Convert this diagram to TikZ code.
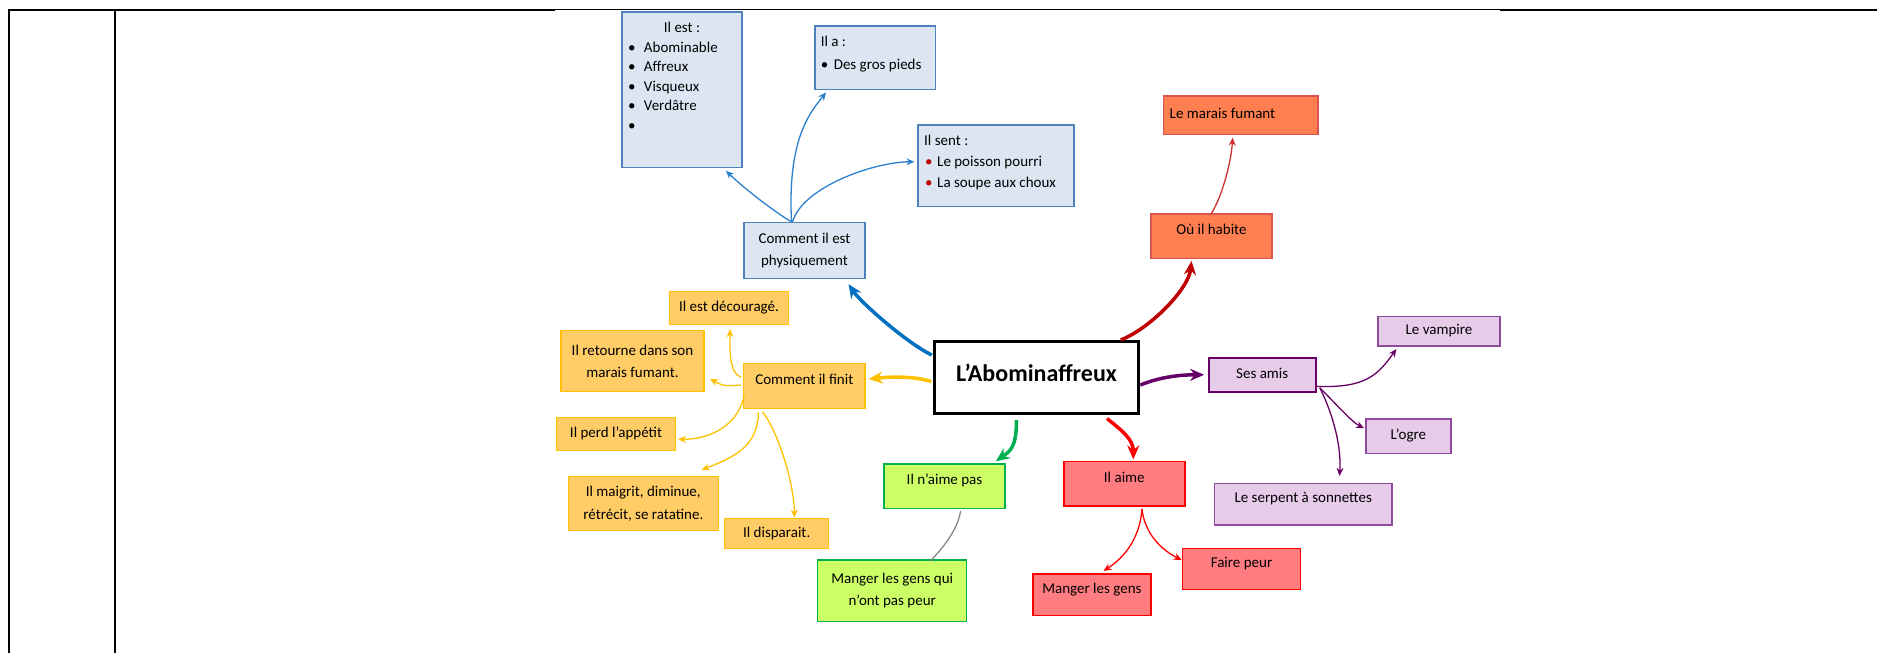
\documentclass[tikz,border=0pt]{standalone}
\usepackage{fontspec}
\setmainfont{Carlito}
\usetikzlibrary{arrows.meta}
\definecolor{bluefill}{HTML}{DCE6F2}
\definecolor{blueline}{HTML}{4F81BD}
\definecolor{bluearrow}{HTML}{0070C0}
\definecolor{thinblue}{HTML}{2A80CC}
\definecolor{coralfill}{HTML}{FF7F50}
\definecolor{coralline}{HTML}{D9534F}
\definecolor{darkred}{HTML}{C00000}
\definecolor{thinred}{HTML}{D03030}
\definecolor{goldfill}{HTML}{FFCC66}
\definecolor{gold}{HTML}{FFC000}
\definecolor{limefill}{HTML}{CCFF66}
\definecolor{greenline}{HTML}{00B050}
\definecolor{pinkfill}{HTML}{FF7C80}
\definecolor{lilacfill}{HTML}{E6CCE8}
\definecolor{lilacline}{HTML}{8E4A9C}
\definecolor{plum}{HTML}{660066}
\tikzset{every picture/.style={x=1pt,y=-1pt,font=\fontsize{15}{22.5}\selectfont},
  mapbox/.style={draw, line width=1.5pt, inner sep=0pt, align=center},
  bluebox/.style={mapbox, fill=bluefill, draw=blueline},
  coralbox/.style={mapbox, fill=coralfill, draw=coralline},
  goldbox/.style={mapbox, fill=goldfill, draw=gold},
  limebox/.style={mapbox, fill=limefill, draw=greenline},
  pinkbox/.style={mapbox, fill=pinkfill, draw=red},
  lilacbox/.style={mapbox, fill=lilacfill, draw=lilacline},
  txt/.style={text height=11pt, text depth=4pt},
  txtup/.style={text height=11pt, text depth=14pt},
  big arrow/.style={line width=3.5pt, -{Stealth[length=14pt,width=12pt]}},
  small arrow/.style={line width=1.3pt, -{Stealth[length=8pt,width=7pt]}}}

\begin{document}
\begin{tikzpicture}
      \useasboundingbox (0,0) rectangle (1877,653);

      % table frame
      \draw[line width=2.3pt] (9,10) -- (555,10);
      \draw[line width=1.1pt] (555,9.5) -- (1500,9.5);
      \draw[line width=2.3pt] (1500,10) -- (1877,10);
      \draw[line width=2pt] (9,8.85) -- (9,653);
      \draw[line width=2pt] (115,8.85) -- (115,653);

      % centre
      \node[mapbox, fill=white, draw=black, line width=3.5pt, minimum width=204, minimum height=71.6, txt,
        font=\fontsize{24}{28}\selectfont\bfseries] (abom) at (1036.5,377.5){L’Abominaffreux};

      % physique
      \node[bluebox, minimum width=121, minimum height=55.7] (phys) at (804.5,250.5){Comment il est\\physiquement};
      \node[bluebox] (est) at (682,89.8){\parbox[c][155.7pt][t]{120pt}{\fontsize{15}{19.6}\selectfont
        \vspace*{6.8pt}\centering\strut Il est :\par\raggedright
        \hspace*{6pt}\makebox[16pt][l]{\textbullet}Abominable\par
        \hspace*{6pt}\makebox[16pt][l]{\textbullet}Affreux\par
        \hspace*{6pt}\makebox[16pt][l]{\textbullet}Visqueux\par
        \hspace*{6pt}\makebox[16pt][l]{\textbullet}Verdâtre\par
        \hspace*{6pt}\textbullet\par}};
      \node[bluebox] (ila) at (875.1,57.7){\parbox[c][63.3pt][t]{120.6pt}{\fontsize{15}{22.4}\selectfont
        \vspace*{5pt}\raggedright\hspace*{6pt}\strut Il a :\par
        \hspace*{6pt}\makebox[13pt][l]{\textbullet}Des gros pieds\par}};
      \node[bluebox] (sent) at (996.2,165.8){\parbox[c][81.7pt][t]{156pt}{\fontsize{15}{21}\selectfont
        \vspace*{5.8pt}\raggedright\hspace*{6pt}\strut Il sent :\par
        \hspace*{7pt}\makebox[12pt][l]{\color{darkred}\textbullet}Le poisson pourri\par
        \hspace*{7pt}\makebox[12pt][l]{\color{darkred}\textbullet}La soupe aux choux\par}};

      % habitat
      \node[coralbox, minimum width=121, minimum height=44.7, txtup] (habite) at (1211.5,236.3){Où il habite};
      \node[coralbox, minimum width=154.6, minimum height=38.3, txt] (marais) at (1240.7,115.2){\makebox[142pt][l]{Le marais fumant}};

      % fin
      \node[goldbox, minimum width=121.3, minimum height=44.6, txtup] (finit) at (804.3,386){Comment il finit};
      \node[goldbox, minimum width=119.4, minimum height=32.6, txt] (decour) at (729,308){Il est découragé.};
      \node[goldbox, minimum width=143, minimum height=61] (retourne) at (632.5,361.2){Il retourne dans son\\marais fumant.};
      \node[goldbox, minimum width=119.4, minimum height=33.4, txt] (appetit) at (616,434){Il perd l’appétit};
      \node[goldbox, minimum width=150, minimum height=54] (maigrit) at (643.3,503.7){Il maigrit, diminue,\\rétrécit, se ratatine.};
      \node[goldbox, minimum width=104, minimum height=29.6, txt] (disparait) at (776.7,533.5){Il disparait.};

      % n'aime pas
      \node[limebox, minimum width=121, minimum height=44.3, txtup] (naime) at (944.5,486.2){Il n’aime pas};
      \node[limebox, minimum width=149, minimum height=61.3] (mangerqui) at (892.2,590.7){Manger les gens qui\\n’ont pas peur};

      % aime
      \node[pinkbox, minimum width=121, minimum height=44.3, txtup] (aime) at (1124.3,483.8){Il aime};
      \node[pinkbox, minimum width=117.8, minimum height=41.7, txtup] (mangens) at (1091.9,594.8){Manger les gens};
      \node[pinkbox, minimum width=118.2, minimum height=41.4, txtup] (peur) at (1241.5,569){Faire peur};

      % amis
      \node[lilacbox, draw=plum, line width=2.2pt, minimum width=107, minimum height=33.7, txt] (amis) at (1262.2,374.8){Ses amis};
      \node[lilacbox, minimum width=122.4, minimum height=29.3, txt] (vampire) at (1439,331.3){Le vampire};
      \node[lilacbox, minimum width=85.2, minimum height=34.3, txt] (ogre) at (1408.4,436.2){L’ogre};
      \node[lilacbox, minimum width=177.8, minimum height=41.3, txtup] (serpent) at (1303.2,504.3){Le serpent à sonnettes};

      % branches from the centre
      \draw[big arrow, bluearrow] ([shift={(-1,-22.5)}]abom.west) .. controls +(-25,-12) and +(12,18) .. ([shift={(44,5)}]phys.south);
      \draw[big arrow, gold] ([shift={(-1.5,4)}]abom.west) .. controls +(-20,-6) and +(20,-2) .. ([shift={(3,-7)}]finit.east);
      \draw[big arrow, greenline] ([shift={(-20,5)}]abom.south) .. controls +(0,28) and +(14,-10) .. ([shift={(-10,-2)}]naime.north east);
      \draw[big arrow, red] ([shift={(70.5,3.5)}]abom.south) .. controls +(15,12) and +(0,-20) .. ([shift={(9,-1.5)}]aime.north);
      \draw[big arrow, plum] ([shift={(0,7.5)}]abom.east) .. controls +(20,-8) and +(-25,0) .. ([shift={(-3.5,0)}]amis.west);
      \draw[big arrow, darkred] ([shift={(-19.4,0)}]abom.north east) .. controls +(30,-12) and +(-3,28) .. ([shift={(-20,1.5)}]habite.south);

      % sub branches
      \draw[small arrow, thinred] (habite.north) .. controls +(8,-12) and +(-2,30) .. ([shift={(-8,2.5)}]marais.south);
      \draw[small arrow, thinblue] ([shift={(-13,0)}]phys.north) .. controls +(-20,-12) and +(15,15) .. ([shift={(44,2.3)}]est.south);
      \draw[small arrow, thinblue] ([shift={(-13,0)}]phys.north) .. controls +(-4,-80) and +(-18,22) .. ([shift={(-49,2.4)}]ila.south);
      \draw[small arrow, thinblue] ([shift={(-12,0)}]phys.north) .. controls +(10,-35) and +(-40,0) .. ([shift={(-3,-4)}]sent.west);
      \draw[small arrow, gold] ([shift={(-2,-8.7)}]finit.west) .. controls +(-12,-5) and +(0,22) .. ([shift={(1,4)}]decour.south);
      \draw[small arrow, gold] ([shift={(-2,-1)}]finit.west) .. controls +(-20,2) and +(10,5) .. ([shift={(5.3,17.8)}]retourne.east);
      \draw[small arrow, gold] ([shift={(1.3,9)}]finit.west) .. controls +(-5,28) and +(35,0) .. ([shift={(1.6,5.3)}]appetit.east);
      \draw[small arrow, gold] ([shift={(-46,3.4)}]finit.south) .. controls +(0,35) and +(30,-12) .. ([shift={(58.4,-6)}]maigrit.north);
      \draw[small arrow, gold] ([shift={(-41.6,2.7)}]finit.south) .. controls +(15,20) and +(0,-35) .. ([shift={(17.6,-0.4)}]disparait.north);
      \draw[line width=1.2pt, gray] ([shift={(16,1.7)}]naime.south) .. controls +(-2,18) and +(12,-12) .. ([shift={(38,1.7)}]mangerqui.north);
      \draw[small arrow, red] ([shift={(17.7,2.3)}]aime.south) .. controls +(-2,28) and +(22,-14) .. ([shift={(11.6,-2.3)}]mangens.north);
      \draw[small arrow, red] ([shift={(17.7,2.3)}]aime.south) .. controls +(3,28) and +(-16,-8) .. ([shift={(0,-9)}]peur.west);
      \draw[small arrow, plum] ([shift={(0,-6.4)}]amis.south east) .. controls +(50,2) and +(-18,25) .. ([shift={(-42.6,2.3)}]vampire.south);
      \draw[small arrow, plum] ([shift={(3,-5)}]amis.south east) .. controls +(15,15) and +(-12,-6) .. ([shift={(-1,-8)}]ogre.west);
      \draw[small arrow, plum] ([shift={(3,-5)}]amis.south east) .. controls +(14,28) and +(2,-28) .. ([shift={(36.3,-7)}]serpent.north);
    \end{tikzpicture}
\end{document}
